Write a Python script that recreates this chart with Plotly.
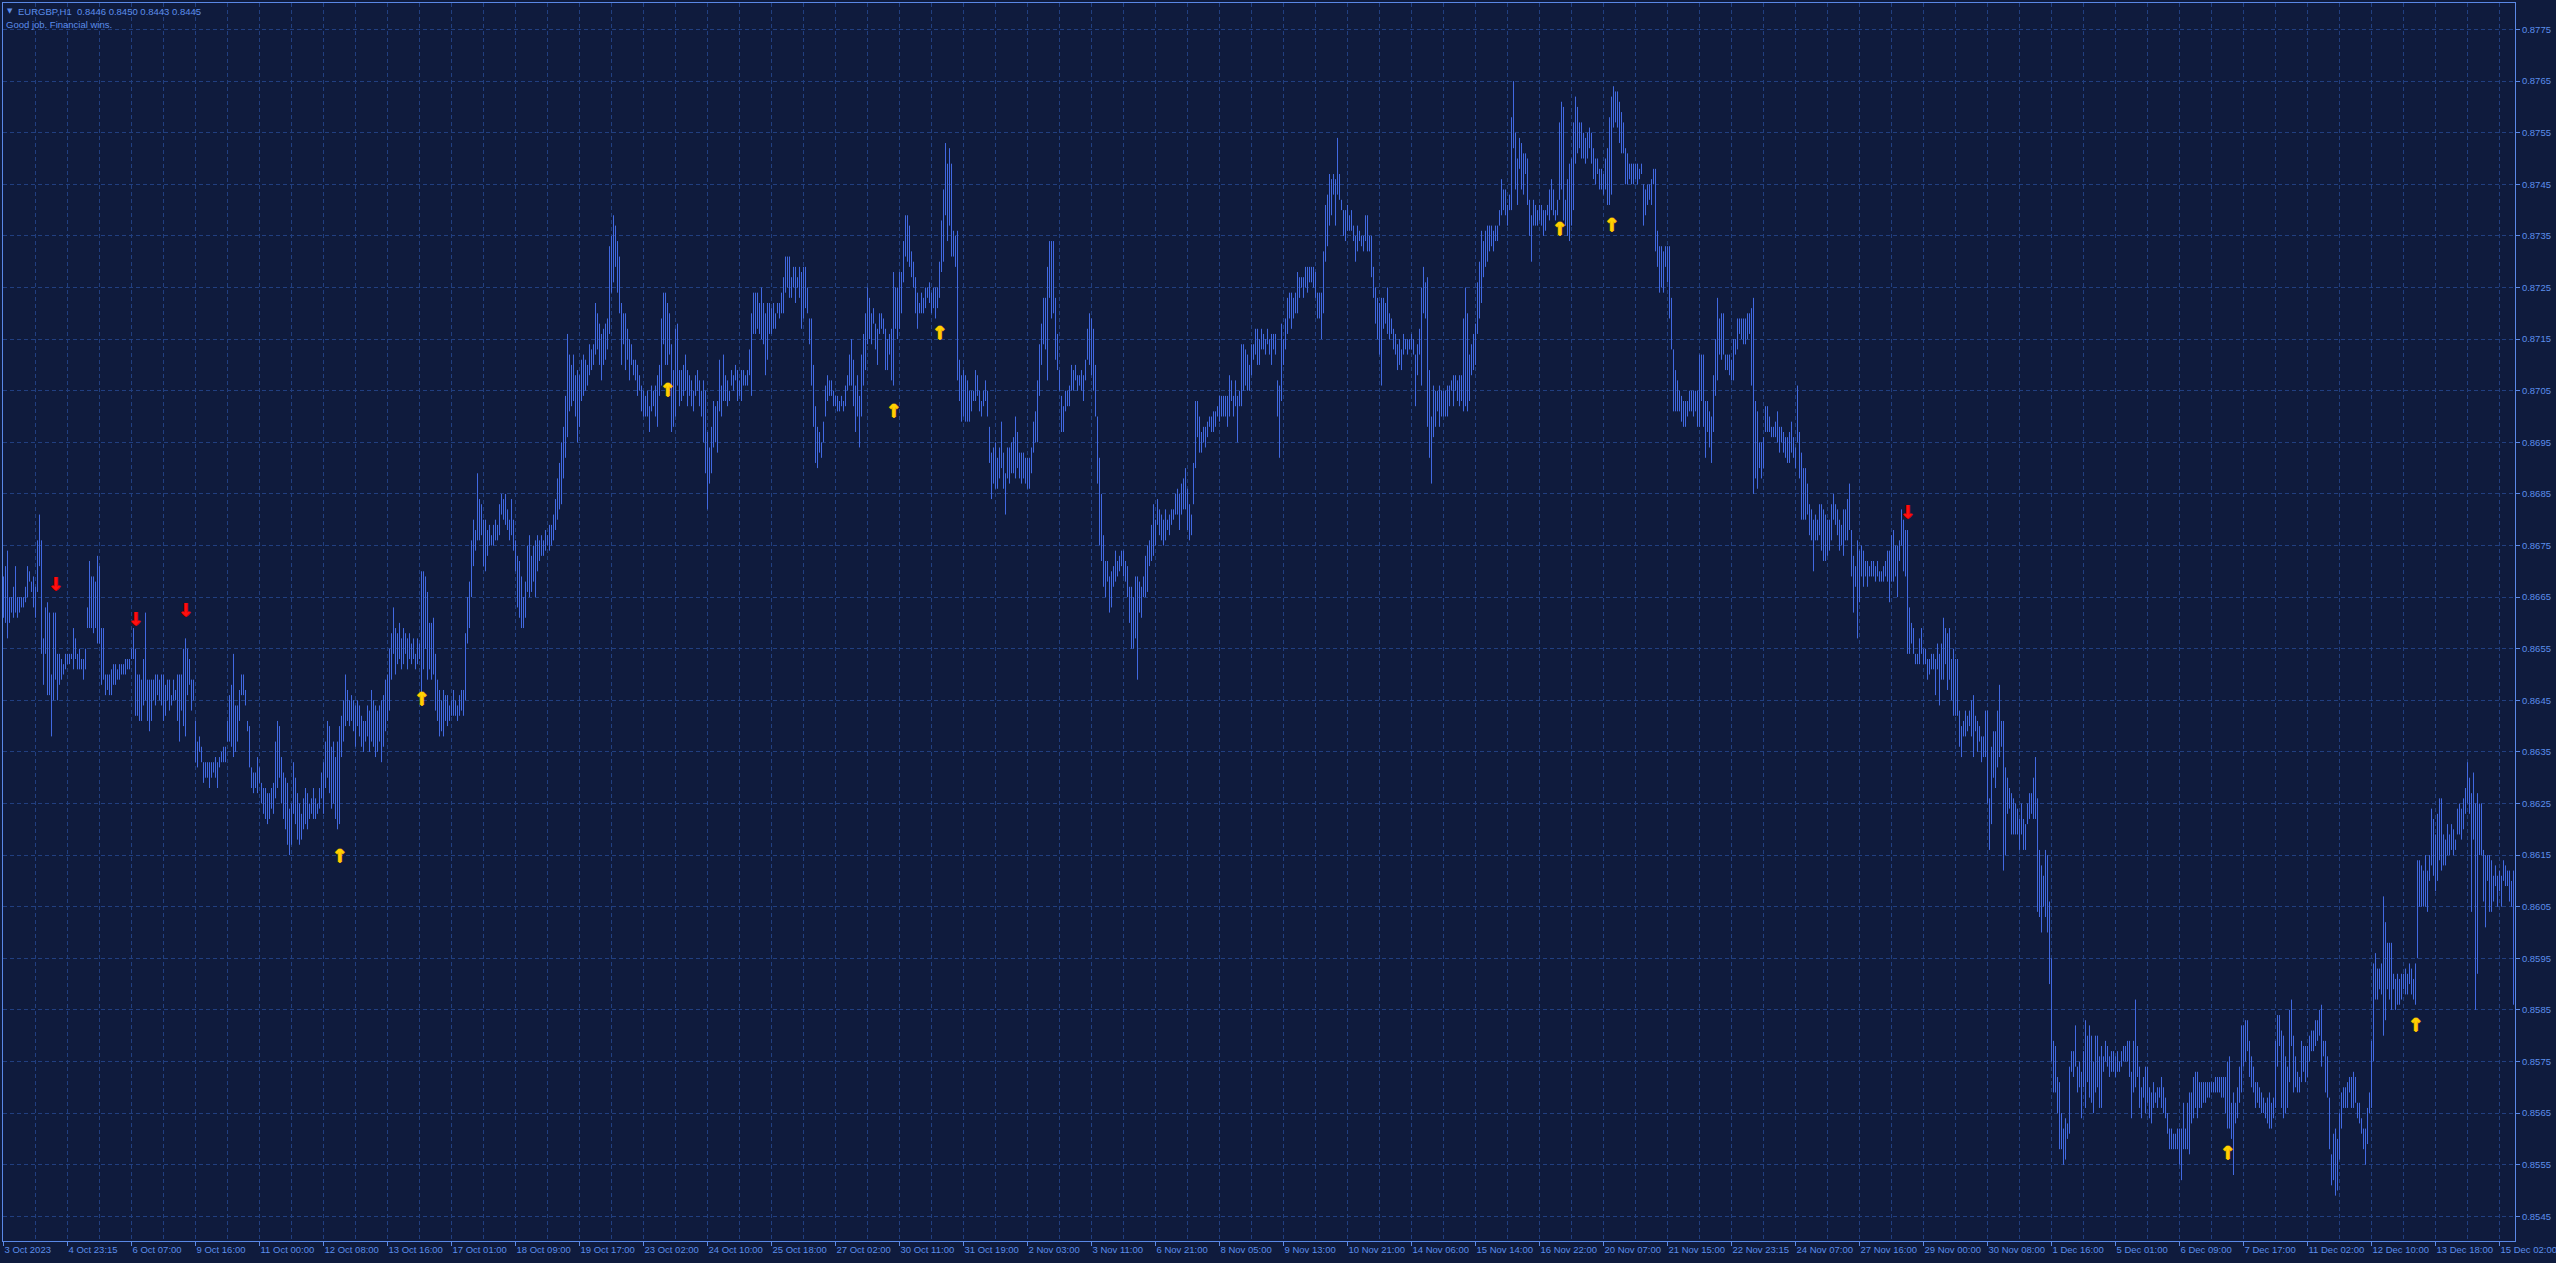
import plotly.graph_objects as go

# ---------------- data ----------------
symbol_header = "EURGBP,H1\u00a0\u00a00.8446 0.8450 0.8443 0.8445"
comment_text = "Good job. Financial wins."

tick_labels = ["3 Oct 2023", "4 Oct 23:15", "6 Oct 07:00", "9 Oct 16:00", "11 Oct 00:00",
               "12 Oct 08:00", "13 Oct 16:00", "17 Oct 01:00", "18 Oct 09:00", "19 Oct 17:00",
               "23 Oct 02:00", "24 Oct 10:00", "25 Oct 18:00", "27 Oct 02:00", "30 Oct 11:00",
               "31 Oct 19:00", "2 Nov 03:00", "3 Nov 11:00", "6 Nov 21:00", "8 Nov 05:00",
               "9 Nov 13:00", "10 Nov 21:00", "14 Nov 06:00", "15 Nov 14:00", "16 Nov 22:00",
               "20 Nov 07:00", "21 Nov 15:00", "22 Nov 23:15", "24 Nov 07:00", "27 Nov 16:00",
               "29 Nov 00:00", "30 Nov 08:00", "1 Dec 16:00", "5 Dec 01:00", "6 Dec 09:00",
               "7 Dec 17:00", "11 Dec 02:00", "12 Dec 10:00", "13 Dec 18:00", "15 Dec 02:00"]
bars_per_label = 32

price_ticks = [0.8545, 0.8555, 0.8565, 0.8575, 0.8585, 0.8595, 0.8605, 0.8615, 0.8625, 0.8635,
               0.8645, 0.8655, 0.8665, 0.8675, 0.8685, 0.8695, 0.8705, 0.8715, 0.8725, 0.8735,
               0.8745, 0.8755, 0.8765, 0.8775]

# hourly bar highs / lows, price x 10000
high_x1e4 = [
8669,8671,8674,8665,8665,8667,8671,8665,8665,8665,8665,8667,8671,8670,8668,8669,
8667,8676,8681,8676,8657,8663,8664,8662,8650,8662,8662,8654,8654,8653,8652,8654,
8654,8654,8654,8659,8657,8654,8655,8653,8653,8655,8663,8672,8669,8669,8668,8673,
8671,8659,8659,8650,8650,8650,8651,8652,8652,8651,8652,8652,8652,8653,8653,8653,
8655,8659,8655,8650,8650,8649,8653,8662,8649,8649,8649,8649,8650,8650,8649,8650,
8650,8648,8649,8649,8646,8649,8647,8650,8650,8650,8655,8657,8655,8653,8649,8649,
8641,8637,8638,8636,8633,8633,8633,8633,8633,8633,8634,8633,8634,8635,8636,8636,
8641,8646,8648,8654,8644,8644,8647,8650,8650,8647,8641,8640,8632,8631,8631,8634,
8632,8629,8628,8628,8627,8627,8628,8629,8637,8641,8640,8634,8631,8630,8629,8624,
8625,8633,8630,8627,8625,8623,8626,8628,8627,8625,8626,8628,8626,8625,8628,8631,
8633,8637,8641,8640,8636,8637,8634,8637,8640,8642,8645,8650,8647,8645,8646,8645,
8644,8645,8644,8642,8641,8641,8644,8643,8647,8645,8644,8643,8644,8645,8646,8649,
8650,8655,8658,8663,8659,8658,8660,8657,8659,8658,8657,8658,8656,8657,8654,8657,
8656,8670,8670,8669,8666,8660,8660,8661,8654,8649,8647,8645,8647,8646,8646,8644,
8645,8647,8645,8644,8646,8647,8647,8658,8665,8668,8676,8680,8678,8689,8684,8683,
8680,8680,8678,8679,8677,8679,8680,8679,8683,8685,8684,8685,8682,8680,8684,8680,
8676,8673,8672,8669,8665,8668,8675,8677,8673,8675,8676,8677,8676,8677,8676,8678,
8677,8679,8679,8681,8684,8688,8691,8695,8698,8704,8716,8712,8710,8712,8708,8709,
8708,8711,8712,8711,8710,8714,8713,8714,8722,8720,8718,8716,8717,8718,8719,8733,
8735,8739,8737,8734,8731,8722,8720,8720,8717,8715,8714,8711,8711,8710,8708,8706,
8705,8704,8705,8702,8706,8705,8706,8708,8710,8719,8724,8724,8722,8720,8714,8709,
8717,8718,8709,8709,8710,8712,8709,8708,8707,8705,8708,8709,8707,8705,8707,8705,
8697,8694,8698,8703,8702,8703,8711,8706,8712,8708,8707,8705,8709,8708,8710,8709,
8707,8709,8709,8708,8709,8713,8720,8724,8724,8724,8722,8725,8722,8720,8722,8722,
8721,8722,8720,8722,8722,8724,8727,8731,8731,8731,8727,8729,8729,8727,8729,8728,
8729,8729,8725,8719,8719,8710,8702,8698,8697,8695,8699,8706,8708,8707,8707,8705,
8704,8704,8703,8704,8703,8706,8708,8712,8715,8711,8706,8708,8704,8712,8716,8720,
8725,8723,8720,8721,8718,8717,8720,8720,8719,8717,8715,8716,8717,8728,8725,8725,
8728,8728,8734,8739,8739,8737,8732,8730,8727,8724,8722,8724,8723,8725,8725,8726,
8724,8725,8725,8725,8730,8738,8744,8753,8749,8752,8749,8736,8735,8736,8711,8708,
8709,8708,8707,8705,8705,8705,8709,8708,8705,8703,8705,8707,8705,8698,8693,8694,
8695,8692,8694,8699,8693,8689,8694,8694,8695,8696,8700,8697,8693,8693,8693,8692,
8692,8692,8694,8699,8701,8707,8714,8718,8723,8723,8729,8734,8734,8734,8723,8716,
8709,8704,8702,8705,8705,8706,8710,8709,8710,8708,8708,8709,8708,8711,8717,8720,
8719,8717,8710,8700,8692,8685,8677,8672,8672,8669,8670,8671,8674,8672,8673,8674,
8674,8672,8671,8667,8667,8665,8669,8669,8668,8667,8669,8673,8675,8676,8679,8683,
8680,8684,8682,8681,8680,8682,8680,8681,8682,8682,8685,8686,8685,8687,8688,8690,
8686,8683,8681,8691,8703,8703,8700,8697,8698,8698,8699,8700,8700,8701,8701,8702,
8704,8704,8704,8704,8704,8708,8707,8704,8707,8704,8705,8714,8714,8713,8712,8710,
8714,8714,8717,8717,8715,8717,8716,8715,8717,8715,8716,8716,8716,8707,8706,8718,
8715,8719,8723,8724,8724,8723,8724,8728,8727,8727,8727,8729,8729,8729,8729,8729,
8728,8724,8724,8724,8732,8741,8743,8747,8746,8747,8746,8754,8747,8742,8740,8740,
8741,8739,8740,8737,8735,8737,8736,8735,8735,8739,8739,8735,8735,8729,8725,8723,
8722,8723,8723,8722,8725,8720,8719,8717,8716,8714,8715,8713,8716,8715,8715,8715,
8716,8715,8712,8714,8717,8725,8729,8726,8727,8709,8700,8706,8705,8705,8706,8705,
8705,8705,8706,8706,8707,8708,8708,8707,8708,8708,8719,8725,8720,8712,8714,8716,
8718,8726,8730,8736,8734,8736,8737,8737,8737,8736,8737,8737,8740,8746,8744,8744,
8741,8743,8758,8765,8755,8750,8754,8753,8751,8751,8750,8742,8739,8742,8741,8740,
8741,8741,8740,8740,8741,8744,8746,8744,8740,8742,8757,8761,8760,8742,8746,8749,
8750,8757,8762,8760,8757,8757,8755,8754,8755,8756,8755,8752,8750,8750,8748,8748,
8747,8750,8752,8758,8762,8764,8763,8763,8761,8759,8757,8752,8751,8749,8749,8749,
8749,8749,8748,8749,8745,8744,8745,8745,8746,8748,8748,8736,8733,8733,8732,8733,
8733,8733,8723,8713,8709,8707,8705,8704,8703,8703,8703,8705,8705,8705,8705,8705,
8712,8712,8712,8703,8703,8701,8700,8708,8715,8723,8719,8720,8720,8712,8712,8712,
8711,8715,8715,8719,8719,8719,8719,8719,8720,8720,8721,8723,8703,8701,8695,8695,
8696,8702,8702,8700,8698,8698,8699,8701,8698,8698,8697,8696,8696,8697,8699,8696,
8694,8706,8697,8693,8690,8690,8687,8683,8682,8680,8681,8680,8683,8683,8682,8681,
8680,8680,8683,8685,8683,8682,8680,8679,8682,8682,8684,8687,8678,8673,8671,8676,
8674,8675,8674,8672,8672,8671,8672,8672,8671,8672,8670,8670,8671,8672,8674,8674,
8677,8678,8675,8675,8676,8682,8680,8678,8678,8663,8660,8659,8654,8654,8657,8659,
8655,8655,8653,8653,8654,8654,8653,8656,8654,8656,8661,8659,8658,8659,8653,8655,
8653,8653,8643,8640,8641,8643,8642,8643,8645,8646,8642,8641,8640,8638,8638,8643,
8643,8626,8636,8639,8639,8643,8648,8641,8641,8632,8630,8628,8627,8626,8625,8624,
8622,8625,8622,8621,8625,8627,8627,8630,8634,8626,8616,8613,8611,8616,8615,8606,
8595,8579,8578,8572,8571,8565,8562,8564,8563,8574,8577,8577,8582,8574,8575,8573,
8577,8583,8580,8582,8580,8575,8580,8580,8576,8578,8576,8579,8578,8576,8577,8577,
8576,8577,8575,8577,8578,8578,8579,8579,8573,8579,8587,8578,8574,8570,8572,8574,
8574,8570,8569,8571,8569,8570,8570,8572,8570,8568,8565,8562,8562,8561,8561,8562,
8562,8562,8567,8562,8567,8569,8569,8572,8573,8573,8571,8571,8571,8571,8571,8571,
8571,8571,8572,8572,8572,8572,8572,8572,8575,8576,8567,8569,8567,8570,8574,8582,
8582,8583,8583,8579,8576,8574,8571,8571,8570,8569,8568,8567,8568,8569,8567,8568,
8579,8584,8584,8581,8580,8576,8574,8585,8587,8580,8576,8573,8572,8579,8578,8578,
8578,8580,8581,8581,8583,8583,8585,8586,8579,8579,8576,8568,8557,8561,8562,8560,
8565,8569,8570,8570,8571,8572,8572,8573,8572,8567,8567,8564,8562,8562,8566,8569,
8579,8594,8596,8593,8593,8594,8607,8602,8598,8598,8598,8592,8591,8592,8591,8592,
8592,8593,8592,8594,8593,8591,8594,8614,8614,8613,8612,8615,8612,8615,8624,8622,
8619,8623,8626,8626,8619,8618,8621,8619,8621,8620,8618,8624,8625,8624,8626,8628,
8633,8630,8627,8631,8625,8627,8625,8625,8616,8615,8615,8615,8614,8611,8613,8611,
8612,8611,8614,8613,8612,8612,8610,8612]

low_x1e4 = [
8661,8660,8657,8660,8662,8661,8662,8661,8662,8663,8663,8664,8665,8668,8666,8663,
8661,8666,8671,8654,8648,8654,8646,8646,8638,8645,8649,8645,8648,8649,8650,8651,
8652,8652,8653,8651,8653,8651,8651,8651,8649,8651,8659,8659,8659,8658,8659,8656,
8656,8648,8649,8646,8647,8646,8646,8648,8648,8649,8649,8650,8650,8650,8651,8651,
8653,8653,8642,8642,8641,8641,8644,8645,8641,8639,8641,8645,8644,8646,8645,8644,
8641,8642,8645,8643,8644,8645,8645,8641,8637,8643,8640,8638,8646,8648,8643,8645,
8633,8632,8635,8633,8629,8630,8630,8628,8630,8631,8630,8628,8632,8633,8633,8633,
8637,8637,8636,8634,8635,8637,8641,8646,8646,8644,8639,8632,8628,8627,8628,8627,
8629,8625,8623,8622,8621,8622,8624,8623,8626,8628,8630,8625,8622,8620,8617,8615,
8617,8623,8621,8618,8617,8618,8620,8621,8620,8622,8623,8622,8622,8623,8624,8626,
8623,8628,8630,8627,8624,8625,8622,8620,8621,8634,8637,8640,8641,8640,8641,8639,
8636,8640,8638,8636,8635,8637,8638,8635,8637,8636,8634,8635,8637,8633,8636,8639,
8641,8643,8649,8654,8650,8652,8653,8651,8652,8654,8651,8653,8652,8653,8651,8652,
8653,8646,8651,8655,8649,8651,8649,8650,8643,8641,8638,8639,8638,8641,8640,8641,
8642,8642,8642,8641,8642,8643,8642,8645,8656,8659,8665,8671,8674,8676,8676,8677,
8671,8670,8673,8675,8675,8675,8676,8676,8677,8681,8680,8679,8678,8676,8677,8674,
8670,8663,8661,8659,8659,8661,8666,8665,8666,8668,8665,8670,8672,8673,8673,8674,
8675,8674,8675,8676,8678,8680,8682,8683,8688,8692,8696,8701,8702,8703,8700,8695,
8698,8703,8704,8705,8706,8708,8709,8710,8712,8713,8710,8707,8710,8711,8713,8716,
8724,8726,8729,8724,8720,8710,8714,8709,8711,8707,8710,8708,8707,8704,8705,8701,
8700,8700,8700,8697,8701,8702,8700,8698,8704,8706,8714,8710,8710,8712,8697,8698,
8700,8706,8702,8703,8704,8705,8702,8704,8702,8701,8704,8705,8702,8700,8695,8689,
8682,8687,8689,8694,8695,8693,8701,8700,8703,8703,8702,8703,8706,8705,8707,8703,
8704,8703,8706,8706,8706,8708,8704,8716,8716,8717,8716,8715,8714,8708,8711,8716,
8716,8717,8717,8720,8719,8720,8720,8724,8725,8723,8723,8725,8722,8725,8723,8717,
8719,8721,8720,8714,8706,8698,8691,8690,8693,8692,8695,8700,8703,8704,8704,8702,
8702,8701,8701,8702,8701,8702,8705,8706,8706,8702,8697,8700,8694,8700,8706,8709,
8714,8715,8714,8718,8713,8710,8716,8717,8716,8709,8709,8712,8707,8706,8717,8715,
8717,8720,8726,8731,8730,8729,8727,8725,8720,8717,8720,8720,8720,8721,8723,8722,
8720,8721,8719,8721,8723,8728,8730,8739,8734,8737,8731,8731,8729,8707,8703,8699,
8700,8699,8699,8699,8701,8703,8703,8704,8701,8700,8702,8703,8700,8691,8684,8687,
8686,8686,8688,8690,8686,8681,8688,8687,8689,8689,8688,8690,8688,8687,8688,8687,
8686,8686,8689,8693,8695,8695,8704,8710,8714,8713,8707,8723,8719,8720,8711,8709,
8705,8697,8697,8701,8702,8702,8705,8705,8707,8705,8706,8705,8703,8707,8711,8710,
8708,8705,8700,8687,8675,8672,8667,8665,8668,8662,8663,8667,8668,8669,8670,8671,
8669,8668,8665,8660,8655,8655,8657,8649,8662,8661,8665,8665,8666,8671,8672,8673,
8675,8679,8677,8676,8675,8676,8678,8677,8679,8680,8681,8681,8678,8681,8682,8682,
8678,8676,8677,8683,8690,8696,8693,8693,8695,8694,8696,8698,8697,8697,8698,8700,
8699,8700,8700,8700,8698,8700,8703,8700,8702,8695,8702,8702,8705,8706,8705,8705,
8708,8711,8712,8710,8710,8713,8713,8712,8714,8712,8710,8713,8712,8700,8692,8703,
8710,8713,8716,8719,8717,8719,8720,8720,8723,8725,8723,8725,8724,8726,8726,8725,
8723,8719,8719,8715,8720,8730,8733,8737,8739,8743,8737,8743,8742,8740,8735,8734,
8736,8736,8736,8734,8730,8732,8734,8733,8732,8734,8732,8732,8727,8723,8718,8715,
8712,8706,8717,8718,8716,8715,8716,8713,8712,8709,8710,8709,8712,8713,8712,8713,
8713,8712,8702,8708,8712,8706,8720,8719,8698,8692,8687,8696,8698,8701,8698,8700,
8700,8700,8700,8702,8705,8702,8705,8703,8702,8703,8701,8702,8701,8703,8708,8709,
8710,8716,8719,8722,8727,8729,8730,8732,8733,8732,8734,8734,8737,8739,8740,8739,
8737,8740,8740,8752,8744,8741,8748,8744,8743,8747,8741,8735,8730,8737,8737,8737,
8738,8737,8735,8736,8739,8738,8740,8739,8738,8739,8742,8744,8738,8737,8735,8734,
8737,8740,8749,8751,8752,8750,8750,8749,8750,8752,8749,8746,8745,8747,8744,8744,
8743,8744,8741,8741,8743,8756,8757,8756,8753,8751,8751,8745,8745,8746,8745,8745,
8746,8745,8746,8747,8737,8739,8741,8742,8741,8745,8732,8729,8724,8725,8724,8729,
8726,8719,8713,8701,8701,8701,8701,8699,8698,8698,8700,8701,8701,8700,8701,8698,
8698,8703,8698,8692,8697,8694,8691,8697,8704,8707,8712,8711,8712,8709,8709,8708,
8707,8707,8712,8713,8716,8715,8714,8714,8715,8716,8706,8685,8688,8686,8690,8688,
8690,8697,8697,8697,8696,8696,8696,8695,8693,8695,8693,8692,8691,8691,8693,8692,
8690,8695,8688,8680,8680,8680,8681,8677,8676,8670,8676,8676,8677,8674,8672,8672,
8673,8674,8676,8680,8679,8677,8674,8675,8673,8676,8676,8678,8669,8662,8667,8657,
8664,8669,8667,8669,8667,8669,8669,8669,8668,8669,8668,8668,8668,8669,8668,8664,
8668,8668,8669,8665,8672,8675,8670,8669,8654,8654,8656,8654,8652,8652,8652,8654,
8652,8652,8649,8650,8651,8651,8646,8651,8644,8649,8649,8652,8647,8649,8645,8642,
8642,8642,8636,8634,8638,8638,8639,8640,8638,8634,8639,8635,8637,8633,8634,8634,
8625,8616,8621,8630,8628,8632,8634,8636,8612,8615,8623,8624,8619,8619,8619,8619,
8616,8619,8616,8616,8621,8622,8623,8622,8622,8604,8603,8600,8605,8603,8600,8590,
8575,8569,8569,8565,8558,8558,8555,8556,8560,8561,8573,8572,8574,8569,8570,8564,
8570,8566,8571,8568,8567,8565,8569,8570,8566,8566,8573,8575,8574,8572,8573,8573,
8572,8573,8573,8574,8575,8575,8575,8572,8564,8569,8570,8572,8566,8564,8568,8565,
8567,8564,8563,8566,8567,8566,8568,8566,8565,8564,8561,8558,8558,8558,8558,8558,
8555,8552,8558,8558,8558,8557,8563,8564,8566,8564,8566,8566,8567,8567,8568,8568,
8569,8569,8569,8569,8569,8568,8568,8565,8562,8562,8560,8553,8563,8564,8567,8569,
8574,8575,8577,8572,8570,8569,8566,8567,8566,8565,8565,8564,8563,8562,8562,8564,
8566,8574,8578,8566,8564,8565,8566,8571,8578,8569,8570,8569,8569,8571,8573,8571,
8572,8575,8577,8577,8578,8579,8580,8574,8576,8569,8568,8558,8551,8552,8549,8550,
8556,8562,8566,8566,8566,8569,8566,8566,8567,8564,8563,8561,8558,8555,8559,8565,
8566,8575,8587,8587,8589,8588,8580,8583,8589,8587,8585,8589,8585,8586,8586,8587,
8589,8588,8588,8590,8588,8587,8586,8595,8605,8605,8605,8605,8604,8610,8613,8611,
8608,8610,8614,8612,8613,8613,8615,8615,8616,8615,8616,8619,8619,8618,8620,8623,
8625,8623,8604,8618,8585,8592,8615,8615,8606,8601,8610,8604,8604,8606,8609,8605,
8608,8605,8610,8609,8609,8606,8605,8586]

# signal arrows: bar index and price of the arrow
sell_bar = [26, 66, 91, 952]
sell_price = [0.86673, 0.86604, 0.86623, 0.86813]
buy_bar = [168, 209, 332, 445, 468, 778, 804, 1112, 1206]
buy_price = [0.86146, 0.86449, 0.87048, 0.87007, 0.87158, 0.87360, 0.87369, 0.85569, 0.85818]

# ---------------- styling ----------------
BG = "#0F1B3D"
GRID = "#213F80"
FRAME = "#5A88E6"
TEXT = "#5C8EEB"
BAR = "#4169E1"
FONT = "Liberation Sans"
SELL = "#FF1010"
BUY = "#FFD200"


def thick(c):
    return f"1px 0 0 {c}, -1px 0 0 {c}, 0 1px 0 {c}"


n = min(len(high_x1e4), len(low_x1e4))
highs = [v / 10000 for v in high_x1e4[:n]]
lows = [v / 10000 for v in low_x1e4[:n]]

bx, by = [], []
for i in range(n):
    bx += [i, i, None]
    by += [lows[i], highs[i], None]

fig = go.Figure()
fig.add_trace(go.Scatter(x=bx, y=by, mode="lines",
                         line=dict(color=BAR, width=1), hoverinfo="skip"))
fig.add_trace(go.Scatter(x=sell_bar, y=sell_price, mode="text",
                         text=["\u2193"] * len(sell_bar),
                         textfont=dict(color=SELL, size=18, family="DejaVu Sans", weight="bold",
                                       shadow=thick("#D00000")),
                         hoverinfo="skip"))
fig.add_trace(go.Scatter(x=buy_bar, y=buy_price, mode="text",
                         text=["\u2191"] * len(buy_bar),
                         textfont=dict(color=BUY, size=18, family="DejaVu Sans", weight="bold",
                                       shadow=thick("#F0B400")),
                         hoverinfo="skip"))

tick_positions = [k * bars_per_label for k in range(len(tick_labels))]

fig.update_layout(
    width=2556, height=1263,
    margin=dict(l=3, r=41, t=3, b=22, pad=0),
    paper_bgcolor=BG, plot_bgcolor=BG,
    showlegend=False, hovermode=False,
)
fig.update_xaxes(
    range=[-0.25, 1255.75],
    tickmode="array", tickvals=tick_positions, ticktext=tick_labels,
    tickangle=0,
    ticks="outside", ticklen=4, tickwidth=1, tickcolor=FRAME,
    ticklabelposition="outside right", ticklabeloverflow="allow",
    tickfont=dict(family=FONT, size=9.5, color=TEXT),
    showgrid=True, gridcolor=GRID, gridwidth=1, griddash="4px,3px",
    minor=dict(tickmode="linear", tick0=0, dtick=16, showgrid=True,
               gridcolor=GRID, gridwidth=1, griddash="4px,3px", ticks=""),
    showline=True, linecolor=FRAME, linewidth=1, mirror=True,
    zeroline=False, automargin=False, fixedrange=True,
)
fig.update_yaxes(
    side="right",
    range=[0.854021, 0.878014],
    tickmode="array", tickvals=price_ticks,
    ticktext=[f"{v:.4f}" for v in price_ticks],
    ticks="outside", ticklen=4, tickwidth=1, tickcolor=FRAME,
    tickfont=dict(family=FONT, size=9.5, color=TEXT),
    showgrid=True, gridcolor=GRID, gridwidth=1, griddash="4px,3px",
    showline=True, linecolor=FRAME, linewidth=1, mirror=True,
    zeroline=False, automargin=False, fixedrange=True,
)

fig.add_annotation(xref="paper", yref="paper", x=0, y=1, xanchor="left", yanchor="middle",
                   xshift=2, yshift=-8, text="\u25bc", showarrow=False,
                   font=dict(family="DejaVu Sans", size=7, color=TEXT))
fig.add_annotation(xref="paper", yref="paper", x=0, y=1, xanchor="left", yanchor="middle",
                   xshift=13, yshift=-8, text=symbol_header, showarrow=False,
                   font=dict(family=FONT, size=9.5, color=TEXT))
fig.add_annotation(xref="paper", yref="paper", x=0, y=1, xanchor="left", yanchor="middle",
                   xshift=1, yshift=-21, text=comment_text, showarrow=False,
                   font=dict(family=FONT, size=9.5, color=TEXT))

fig.write_html("out.html", config={"displayModeBar": False},
               post_script="document.body.style.margin='0';document.body.style.overflow='hidden';")
